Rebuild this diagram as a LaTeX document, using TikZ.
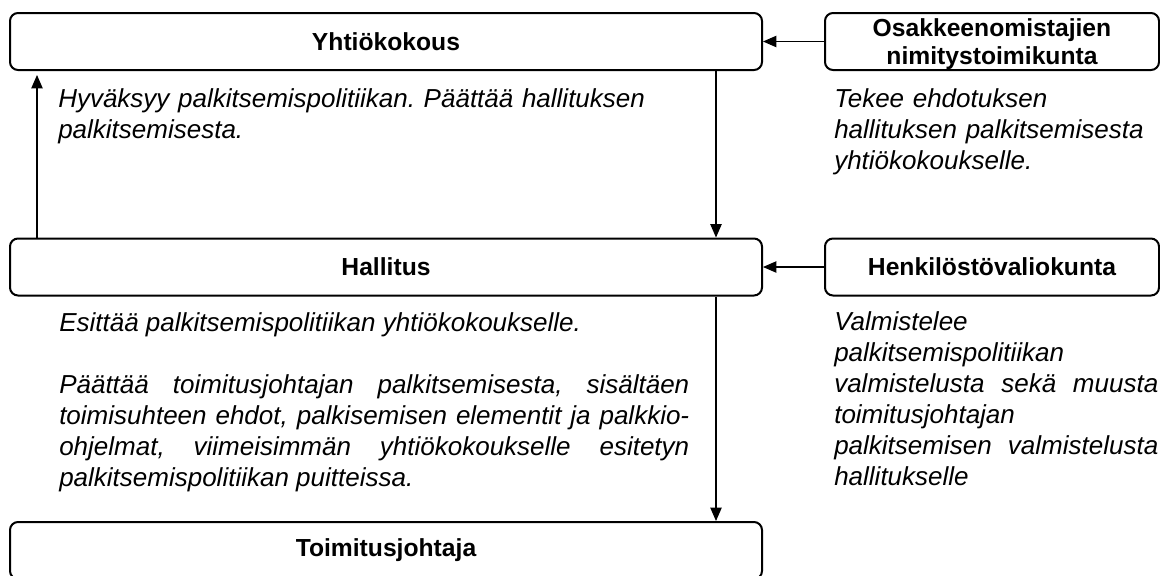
\documentclass[tikz,border=0pt]{standalone}
\usepackage{fontspec}
\setmainfont{Liberation Sans}
\usetikzlibrary{arrows.meta}
\hyphenpenalty=10000
\frenchspacing

\tikzset{
    orgbox/.style={draw, line width=1.5pt, rounded corners=6pt, fill=white,
        minimum width=564pt, minimum height=42.75pt, inner sep=0pt, align=center,
        font=\fontsize{18.5}{20.7}\selectfont\bfseries},
    sidebox/.style={orgbox, minimum width=250.5pt},
    note/.style={anchor=base west, inner sep=0pt,
        font=\fontsize{19.5}{23.25}\selectfont\itshape},
    flow/.style={-{Triangle[length=10pt, width=8.5pt]}, line width=0.8pt}
}

\begin{document}
\begin{tikzpicture}[x=0.75pt, y=-0.75pt]
    \useasboundingbox (0, 0) rectangle (1160, 575);

    % Main chain
    \node[orgbox] (yk) at (386, 41.5) {Yhtiökokous};
    \node[orgbox] (hall) at (386, 267) {Hallitus};
    \node[orgbox] (toim) at (386, 550.5) {Toimitusjohtaja};

    % Committees
    \node[sidebox, text depth=0pt] (osak) at (992, 41.5) {Osakkeenomistajien\\nimitystoimikunta};
    \node[sidebox] (henk) at (992, 267) {Henkilöstövaliokunta};

    % Descriptions
    \node[note, text width=472.5pt, align=left] (ykText) at (58, 107)
        {Hyväksyy palkitsemispolitiikan. Päättää hallituksen palkitsemisesta.};
    \node[note, text width=243pt, align=left] (osakText) at (834, 107)
        {Tekee ehdotuksen hallituksen palkitsemisesta yhtiökokoukselle.};
    \node[note, text width=472.5pt, align=justify] (hallText) at (59, 331)
        {Esittää palkitsemispolitiikan yhtiökokoukselle.\par\vspace{\baselineskip}
        Päättää toimitusjohtajan palkitsemisesta, sisältäen\linebreak
        toimisuhteen ehdot, palkisemisen elementit ja palkkio-\linebreak
        ohjelmat, viimeisimmän yhtiökokoukselle esitetyn\linebreak
        palkitsemispolitiikan puitteissa.};
    \node[note, text width=243pt, align=justify] (henkText) at (834, 330)
        {Valmistelee\linebreak
        palkitsemispolitiikan\linebreak
        valmistelusta sekä muusta\linebreak
        toimitusjohtajan\linebreak
        palkitsemisen valmistelusta\linebreak
        hallitukselle};

    % Arrows
    \coordinate (upX) at (37, 0);
    \coordinate (downX) at (716, 0);
    \draw[flow] (osak.west) -- (osak.west -| yk.east);
    \draw[flow] (henk.west) -- (henk.west -| hall.east);
    \draw[flow] (yk.south -| downX) -- (hall.north -| downX);
    \draw[flow] (hall.south -| downX) -- (toim.north -| downX);
    \draw[flow, shorten >=3pt] (hall.north -| upX) -- (yk.south -| upX);
\end{tikzpicture}
\end{document}
